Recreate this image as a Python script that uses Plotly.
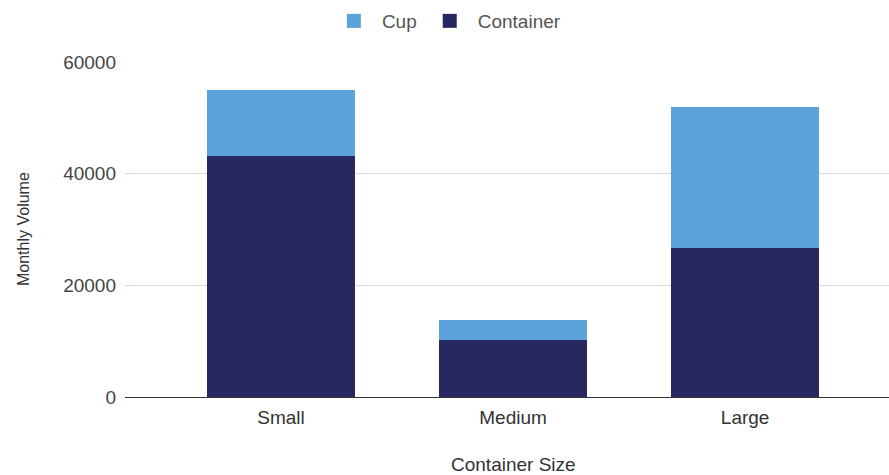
import plotly.graph_objects as go

categories = ["Small", "Medium", "Large"]
container_vals = [43200, 10200, 26700]
cup_vals = [11800, 3600, 25300]
y_ticks = [0, 20000, 40000, 60000]

cup_color = "#5ba3da"
container_color = "#27285f"
font_family = "Liberation Sans, Arial, sans-serif"

fig = go.Figure()
fig.add_trace(go.Bar(name="Container", x=categories, y=container_vals, showlegend=False,
                     marker=dict(color=container_color, line=dict(width=0)), width=0.64))
fig.add_trace(go.Bar(name="Cup", x=categories, y=cup_vals, showlegend=False,
                     marker=dict(color=cup_color, line=dict(width=0)), width=0.64))
# legend entries (square swatches)
for name, col in [("Cup", cup_color), ("Container", container_color)]:
    fig.add_trace(go.Scatter(name=name, x=[None], y=[None], mode="markers",
                             marker=dict(symbol="square", size=14, color=col)))

fig.update_layout(
    width=889, height=475,
    barmode="stack",
    barcornerradius=2,
    plot_bgcolor="white", paper_bgcolor="white",
    margin=dict(l=125, r=0, t=62, b=78),
    font=dict(family=font_family, size=19, color="#444"),
    legend=dict(orientation="h", traceorder="normal", x=0.42, xanchor="center",
                yref="container", y=1 - 21 / 475, yanchor="middle",
                font=dict(size=19, color="#555"), itemwidth=46),
    xaxis=dict(range=[-0.672, 2.62], showgrid=False, showline=False,
               tickfont=dict(size=19, color="#333"), ticks="", ticklabelstandoff=7),
    yaxis=dict(range=[0, 60000], tickvals=y_ticks, tickformat="d",
               gridcolor="#d9d9d9", gridwidth=1,
               zeroline=True, zerolinecolor="#333", zerolinewidth=1,
               tickfont=dict(size=19, color="#444"), ticklabelstandoff=8),
    annotations=[
        dict(text="Container Size", xref="paper", yref="paper",
             x=(513 - 125) / 764, y=-0.2, xanchor="center", yanchor="middle",
             showarrow=False, font=dict(size=19, color="#333")),
        dict(text="Monthly Volume", xref="paper", yref="paper", textangle=-90,
             x=-101.5 / 764, y=0.5, xanchor="center", yanchor="middle",
             showarrow=False, font=dict(size=16, color="#333")),
    ],
)

fig.write_html("out.html")
